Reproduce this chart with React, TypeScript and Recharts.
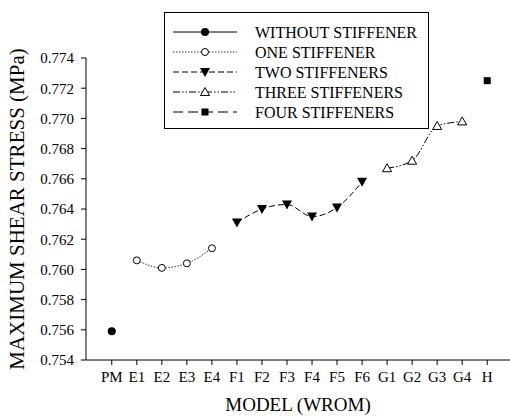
import React from "react";
import { LineChart, Line, XAxis, YAxis } from "recharts";

// model labels along the x axis, in plotting order
const models = ["PM", "E1", "E2", "E3", "E4", "F1", "F2", "F3", "F4", "F5", "F6", "G1", "G2", "G3", "G4", "H"];

// maximum shear stress (MPa) for each stiffener group
const withoutStiffener = [0.7559]; // PM
const oneStiffener = [0.7606, 0.7601, 0.7604, 0.7614]; // E1-E4
const twoStiffeners = [0.7631, 0.764, 0.7643, 0.7635, 0.7641, 0.7658]; // F1-F6
const threeStiffeners = [0.7667, 0.7672, 0.7695, 0.7698]; // G1-G4
const fourStiffeners = [0.7725]; // H

const yTicks = [0.754, 0.756, 0.758, 0.76, 0.762, 0.764, 0.766, 0.768, 0.77, 0.772, 0.774];

const FONT = "Liberation Serif, serif";

const toPoints = (first: string, values: number[]) => {
  const start = models.indexOf(first);
  return values.map((v, i) => ({ x: start + i, y: v }));
};

type DotProps = { cx?: number; cy?: number };

const FilledCircle = ({ cx = 0, cy = 0 }: DotProps) => <circle cx={cx} cy={cy} r={4} fill="#000" />;
const OpenCircle = ({ cx = 0, cy = 0 }: DotProps) => (
  <circle cx={cx} cy={cy} r={3.5} fill="#fff" stroke="#000" strokeWidth={1} />
);
const DownTriangle = ({ cx = 0, cy = 0 }: DotProps) => (
  <path d={`M${cx - 5},${cy - 4} L${cx + 5},${cy - 4} L${cx},${cy + 5} Z`} fill="#000" />
);
const UpTriangle = ({ cx = 0, cy = 0 }: DotProps) => (
  <path d={`M${cx - 4.5},${cy + 3.5} L${cx + 4.5},${cy + 3.5} L${cx},${cy - 4.5} Z`} fill="#fff" stroke="#000" strokeWidth={1} />
);
const Square = ({ cx = 0, cy = 0 }: DotProps) => <rect x={cx - 3.5} y={cy - 3.5} width={7} height={7} fill="#000" />;

const series = [
  { name: "WITHOUT STIFFENER", data: toPoints("PM", withoutStiffener), dash: undefined, Dot: FilledCircle, color: "#000" },
  { name: "ONE STIFFENER", data: toPoints("E1", oneStiffener), dash: "1.5 1.5", Dot: OpenCircle, color: "#333" },
  { name: "TWO STIFFENERS", data: toPoints("F1", twoStiffeners), dash: "6 3", Dot: DownTriangle, color: "#000" },
  { name: "THREE STIFFENERS", data: toPoints("G1", threeStiffeners), dash: "7 2 1.5 2 1.5 2", Dot: UpTriangle, color: "#000" },
  { name: "FOUR STIFFENERS", data: toPoints("H", fourStiffeners), dash: "10 5", Dot: Square, color: "#000" },
];

function LegendBox() {
  return (
    <svg width={510} height={140} style={{ position: "absolute", left: 0, top: 0, pointerEvents: "none" }}>
      <rect x={164.5} y={12.5} width={264} height={116} fill="#fff" stroke="#000" strokeWidth={1} />
      {series.map((s, i) => {
        const y = 32 + i * 20;
        const { Dot } = s;
        return (
          <g key={s.name}>
            <line x1={173} x2={237} y1={y} y2={y} stroke={s.color} strokeWidth={1} strokeDasharray={s.dash} />
            <Dot cx={205} cy={y} />
            <text x={255} y={y + 5.5} style={{ fontFamily: FONT, fontSize: 16 }} fill="#000">
              {s.name}
            </text>
          </g>
        );
      })}
    </svg>
  );
}

export default function App() {
  return (
    <div style={{ position: "absolute", left: 0, top: 0, width: 510, height: 417, background: "#fff" }}>
      <LineChart width={510} height={417} margin={{ top: 58, right: 0, bottom: 0, left: 0 }}>
        <XAxis
          type="number"
          dataKey="x"
          domain={[-1.03, 15.91]}
          ticks={models.map((_, i) => i)}
          tickFormatter={(i) => models[i] ?? ""}
          interval={0}
          height={57}
          tickSize={5}
          tickMargin={6}
          stroke="#000"
          tick={{ fill: "#000", fontSize: 15, style: { fontFamily: FONT } }}
          allowDataOverflow
          label={{
            content: ({ viewBox }: any) => (
              <text
                x={viewBox.x + viewBox.width / 2}
                y={411}
                textAnchor="middle"
                style={{ fontFamily: FONT, fontSize: 19 }}
                fill="#000"
              >
                MODEL (WROM)
              </text>
            ),
          }}
        />
        <YAxis
          type="number"
          dataKey="y"
          domain={[0.754, 0.774]}
          ticks={yTicks}
          tickFormatter={(v) => v.toFixed(3)}
          width={86}
          tickSize={5}
          tickMargin={7}
          stroke="#000"
          tick={{ fill: "#000", fontSize: 15, style: { fontFamily: FONT } }}
          allowDataOverflow
          label={{
            content: ({ viewBox }: any) => {
              const cx = 17;
              const cy = viewBox.y + viewBox.height / 2;
              return (
                <text
                  x={cx}
                  y={cy}
                  transform={`rotate(-90 ${cx} ${cy})`}
                  textAnchor="middle"
                  dominantBaseline="central"
                  style={{ fontFamily: FONT, fontSize: 21 }}
                  fill="#000"
                >
                  MAXIMUM SHEAR STRESS (MPa)
                </text>
              );
            },
          }}
        />
        {series.map((s) => (
          <Line
            key={s.name}
            data={s.data}
            dataKey="y"
            name={s.name}
            type="monotone"
            stroke={s.color}
            strokeWidth={1}
            strokeDasharray={s.dash}
            dot={(p: any) => <s.Dot key={`${s.name}-${p.index}`} cx={p.cx} cy={p.cy} />}
            activeDot={false}
            isAnimationActive={false}
          />
        ))}
      </LineChart>
      <LegendBox />
    </div>
  );
}
